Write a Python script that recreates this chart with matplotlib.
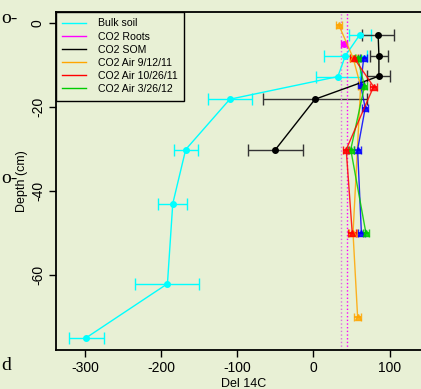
import numpy as np
import matplotlib
matplotlib.use("Agg")
import matplotlib.pyplot as plt
from matplotlib.lines import Line2D

plt.rcParams['font.family'] = ['Liberation Sans', 'DejaVu Sans']
plt.rcParams['axes.unicode_minus'] = False

bg = '#e8f0d5'

# Bulk soil
bulk_x = [61, 42, 32, -110, -168, -185, -192, -299]
bulk_y = [-2.7, -7.7, -12.7, -18.1, -30.1, -43, -62.1, -75]
bulk_err = [14, 28, 29, 29, 16, 19, 42, 23]

# CO2 SOM
som_x = [85, 86, 86, 2, -50]
som_y = [-2.7, -7.7, -12.6, -18.1, -30.1]
som_err = [21, 12, 15, 68, 36]

# CO2 Roots
roots_x = [40]
roots_y = [-5]
roots_err = [4]
roots_lines = [36, 44]

# CO2 Air series
air1_x = [33, 52, 62, 52, 58]
air1_y = [-0.3, -8.2, -15, -50, -70]
air1_err = [4, 4, 4, 5, 5]

air2_x = [53, 79, 43, 51]
air2_y = [-8.2, -15.1, -30.1, -50.1]
air2_err = [5, 5, 4, 5]

air3_x = [58, 67, 49, 69]
air3_y = [-8.2, -15, -30.1, -50.1]
air3_err = [4, 4, 4, 4]

air4_x = [66, 62, 68, 58, 63]
air4_y = [-8.3, -14.7, -20.2, -30.1, -50.1]
air4_err = [5, 4, 4, 5, 5]

fig = plt.figure(figsize=(4.21, 3.89), dpi=100, facecolor=bg)
ax = fig.add_axes([56/421, 39/389, 376/421, 338/389], facecolor=bg)

ax.errorbar(bulk_x, bulk_y, xerr=bulk_err, color='cyan', lw=1, marker='o', ms=4,
            capsize=4, elinewidth=1)
ax.errorbar(som_x, som_y, xerr=som_err, color='black', lw=1, marker='o', ms=4,
            capsize=4, elinewidth=1, ecolor='#333333')
for xv, c in zip(roots_lines, ['#e070e0', 'magenta']):
    ax.axvline(xv, color=c, lw=1, ls=':')
ax.errorbar(roots_x, roots_y, xerr=roots_err, color='magenta', marker='o', ms=4,
            capsize=3, lw=1)

for xs, ys, es, c in [(air1_x, air1_y, air1_err, 'orange'),
                      (air4_x, air4_y, air4_err, 'blue'),
                      (air3_x, air3_y, air3_err, '#00cc00'),
                      (air2_x, air2_y, air2_err, 'red')]:
    ax.errorbar(xs, ys, xerr=es, color=c, lw=1, marker='^', ms=5,
                capsize=3, elinewidth=1.5, alpha=0.85)

ax.set_xlim(-338.5, 155.8)
ax.set_ylim(-77.9, 2.7)
ax.set_xticks([-300, -200, -100, 0, 100])
ax.set_yticks([0, -20, -40, -60])
ax.set_yticklabels(['0', '-20', '-40', '-60'], rotation=90, va='center')
ax.tick_params(direction='out', length=5, width=1, labelsize=10, pad=3)
for s in ax.spines.values():
    s.set_linewidth(1.3)

ax.set_xlabel('Del 14C', fontsize=9, labelpad=2)
ax.set_ylabel('Depth (cm)', fontsize=9, labelpad=2)

handles = [Line2D([], [], color=c, lw=1) for c in
           ['cyan', 'magenta', 'black', 'orange', 'red', '#00cc00']]
labels = ['Bulk soil', 'CO2 Roots', 'CO2 SOM', 'CO2 Air 9/12/11',
          'CO2 Air 10/26/11', 'CO2 Air 3/26/12']
leg = ax.legend(handles, labels, loc='upper left', fontsize=7.6, frameon=True,
                fancybox=False, borderaxespad=0, handlelength=2.2,
                labelspacing=0.3, borderpad=0.6, handletextpad=1.2)
leg.get_frame().set_edgecolor('black')
leg.get_frame().set_facecolor(bg)
leg.get_frame().set_linewidth(1)
leg.get_frame().set_alpha(1)

# stray text from surrounding page
for y, t in [(23, 'o-'), (183, 'o-'), (370, 'd')]:
    fig.text(1/421, 1 - y/389, t, family='Liberation Serif', fontsize=14,
             ha='left', va='baseline')

fig.savefig('out.png', dpi=100, facecolor=bg)
